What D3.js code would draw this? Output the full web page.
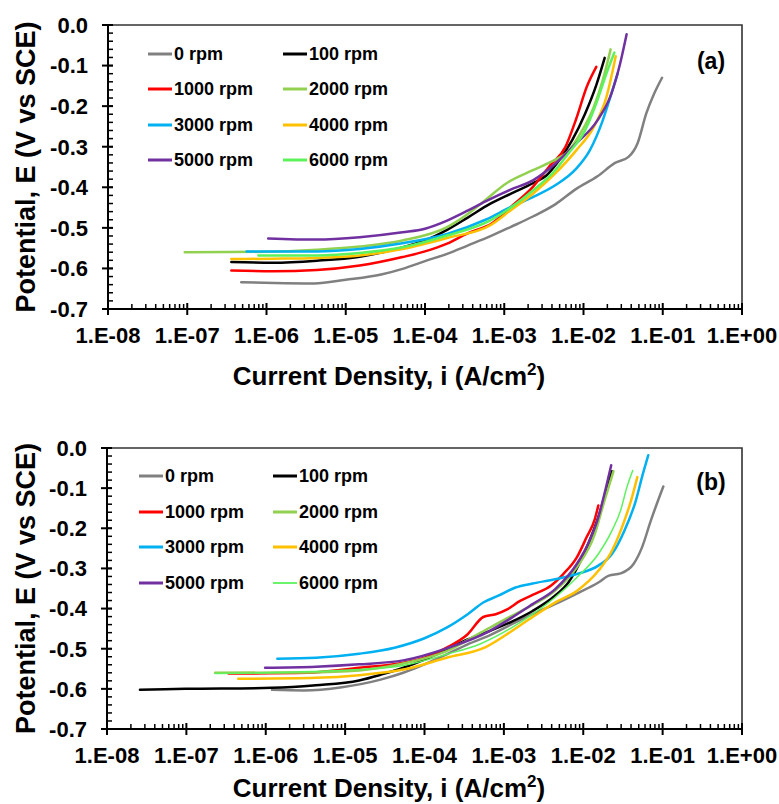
<!DOCTYPE html>
<html><head><meta charset="utf-8">
<script src="https://cdn.jsdelivr.net/npm/d3@7"></script>
<style>body{margin:0;background:#fff}svg{display:block}text{font-family:"Liberation Sans",Arial,sans-serif}</style>
</head><body>
<svg id="c" width="779" height="804"></svg>
<script>
// ---- categories / labels ----
const seriesNames = ["0 rpm","100 rpm","1000 rpm","2000 rpm","3000 rpm","4000 rpm","5000 rpm","6000 rpm"];
const seriesColors = ["#808080","#000000","#ff0000","#92d050","#00b0f0","#ffc000","#7030a0","#5cf25c"];
const xTickValues = [1e-8,1e-7,1e-6,1e-5,1e-4,1e-3,1e-2,1e-1,1e0];
const xTickLabels = ["1.E-08","1.E-07","1.E-06","1.E-05","1.E-04","1.E-03","1.E-02","1.E-01","1.E+00"];
const yTickValues = [0,-0.1,-0.2,-0.3,-0.4,-0.5,-0.6,-0.7];
const yTickLabels = ["0.0","-0.1","-0.2","-0.3","-0.4","-0.5","-0.6","-0.7"];

// ---- panel (a): [current density A/cm2, potential V vs SCE] ----
const a0 = [[4.8e-7,-0.634],[1.26e-6,-0.636],[4.0e-6,-0.637],[1.0e-5,-0.628],[2.8e-5,-0.615],[5.2e-5,-0.601],[1.0e-4,-0.582],[1.9e-4,-0.564],[3.5e-4,-0.543],[6.6e-4,-0.521],[1.2e-3,-0.498],[2.3e-3,-0.472],[4.4e-3,-0.442],[8.1e-3,-0.404],[1.5e-2,-0.373],[2.5e-2,-0.340],[3.7e-2,-0.325],[4.8e-2,-0.292],[6.2e-2,-0.218],[7.8e-2,-0.169],[9.8e-2,-0.130]];
const a100 = [[3.6e-7,-0.584],[1.2e-6,-0.586],[4.3e-6,-0.581],[1.5e-5,-0.571],[5.2e-5,-0.548],[1.0e-4,-0.531],[1.9e-4,-0.505],[3.5e-4,-0.474],[6.6e-4,-0.441],[1.2e-3,-0.416],[2.3e-3,-0.390],[3.4e-3,-0.371],[4.9e-3,-0.334],[7.2e-3,-0.284],[1.05e-2,-0.218],[1.45e-2,-0.148],[1.85e-2,-0.081]];
const a1000 = [[3.6e-7,-0.605],[1.2e-6,-0.607],[4.3e-6,-0.604],[1.5e-5,-0.593],[5.2e-5,-0.572],[1.0e-4,-0.558],[1.9e-4,-0.539],[3.5e-4,-0.513],[5.8e-4,-0.497],[6.6e-4,-0.492],[1.2e-3,-0.449],[2.3e-3,-0.399],[3.8e-3,-0.346],[5.9e-3,-0.301],[8.1e-3,-0.231],[1.1e-2,-0.152],[1.45e-2,-0.103]];
const a2000 = [[9.3e-8,-0.560],[1.0e-6,-0.559],[4.3e-6,-0.554],[1.5e-5,-0.546],[5.2e-5,-0.531],[1.9e-4,-0.498],[3.5e-4,-0.465],[5.8e-4,-0.431],[1.07e-3,-0.390],[2.3e-3,-0.358],[4.4e-3,-0.332],[6.3e-3,-0.313],[9.1e-3,-0.268],[1.35e-2,-0.202],[1.75e-2,-0.136],[2.2e-2,-0.060]];
const a3000 = [[5.6e-7,-0.558],[4.3e-6,-0.558],[1.5e-5,-0.552],[5.2e-5,-0.538],[1.9e-4,-0.515],[5.8e-4,-0.480],[1.2e-3,-0.449],[2.3e-3,-0.424],[4.4e-3,-0.395],[8.1e-3,-0.354],[1.2e-2,-0.309],[1.75e-2,-0.235],[2.25e-2,-0.169],[2.7e-2,-0.119]];
const a4000 = [[3.6e-7,-0.577],[1.2e-6,-0.576],[4.3e-6,-0.574],[1.5e-5,-0.568],[5.2e-5,-0.552],[1.9e-4,-0.525],[6.6e-4,-0.494],[1.2e-3,-0.457],[2.3e-3,-0.416],[4.4e-3,-0.366],[8.1e-3,-0.309],[1.35e-2,-0.251],[1.95e-2,-0.177],[2.55e-2,-0.077]];
const a5000 = [[1.05e-6,-0.526],[4.3e-6,-0.529],[1.5e-5,-0.523],[5.2e-5,-0.511],[1.0e-4,-0.502],[1.9e-4,-0.482],[3.5e-4,-0.457],[5.8e-4,-0.435],[1.2e-3,-0.406],[2.3e-3,-0.383],[4.4e-3,-0.342],[8.1e-3,-0.292],[1.5e-2,-0.235],[2.25e-2,-0.169],[2.9e-2,-0.095],[3.5e-2,-0.023]];
const a6000 = [[7.9e-7,-0.568],[4.3e-6,-0.568],[1.5e-5,-0.562],[5.2e-5,-0.548],[1.9e-4,-0.519],[6.6e-4,-0.482],[2.3e-3,-0.408],[4.4e-3,-0.358],[6.3e-3,-0.319],[1.05e-2,-0.259],[1.5e-2,-0.185],[1.95e-2,-0.119],[2.45e-2,-0.068]];

// ---- panel (b) ----
const b0 = [[1.2e-6,-0.6025],[3.0e-6,-0.604],[9.1e-6,-0.596],[2.8e-5,-0.577],[5.4e-5,-0.560],[1.0e-4,-0.539],[1.9e-4,-0.514],[3.5e-4,-0.489],[6.6e-4,-0.467],[1.26e-3,-0.439],[2.3e-3,-0.414],[4.4e-3,-0.389],[8.3e-3,-0.3625],[1.55e-2,-0.335],[2.1e-2,-0.318],[2.95e-2,-0.3125],[4.3e-2,-0.289],[5.5e-2,-0.2475],[7.1e-2,-0.181],[1.02e-1,-0.096]];
const b100 = [[2.6e-8,-0.602],[9.8e-8,-0.600],[1.2e-6,-0.5975],[4.3e-6,-0.591],[1.5e-5,-0.579],[2.9e-5,-0.564],[5.4e-5,-0.5475],[1.0e-4,-0.527],[1.9e-4,-0.502],[3.5e-4,-0.477],[6.6e-4,-0.456],[1.26e-3,-0.4325],[2.3e-3,-0.406],[4.4e-3,-0.368],[6.5e-3,-0.335],[9.3e-3,-0.281],[1.2e-2,-0.231],[1.55e-2,-0.1725],[2.0e-2,-0.0975],[2.3e-2,-0.058]];
const b1000 = [[3.4e-7,-0.562],[3.3e-6,-0.560],[1.5e-5,-0.5475],[5.4e-5,-0.535],[1.0e-4,-0.5225],[1.9e-4,-0.4975],[3.5e-4,-0.464],[5.5e-4,-0.421],[7.9e-4,-0.414],[1.1e-3,-0.402],[1.6e-3,-0.381],[2.3e-3,-0.366],[3.9e-3,-0.343],[5.6e-3,-0.314],[8.3e-3,-0.2725],[1.1e-2,-0.2225],[1.4e-2,-0.177],[1.55e-2,-0.143]];
const b2000 = [[2.3e-7,-0.560],[3.2e-6,-0.559],[1.5e-5,-0.554],[5.4e-5,-0.537],[1.9e-4,-0.506],[5.1e-4,-0.460],[1.26e-3,-0.418],[2.3e-3,-0.391],[4.4e-3,-0.356],[8.3e-3,-0.2975],[1.4e-2,-0.214],[1.85e-2,-0.131],[2.4e-2,-0.058]];
const b3000 = [[1.4e-6,-0.525],[4.3e-6,-0.5225],[1.5e-5,-0.5125],[4.2e-5,-0.4975],[1.0e-4,-0.474],[1.9e-4,-0.4475],[3.5e-4,-0.414],[5.5e-4,-0.385],[8.5e-4,-0.368],[1.4e-3,-0.3475],[2.3e-3,-0.3375],[4.4e-3,-0.327],[8.3e-3,-0.314],[1.55e-2,-0.293],[2.3e-2,-0.264],[3.3e-2,-0.206],[4.6e-2,-0.131],[5.5e-2,-0.0725],[6.6e-2,-0.018]];
const b4000 = [[4.5e-7,-0.575],[4.3e-6,-0.5725],[1.5e-5,-0.566],[5.4e-5,-0.552],[1.9e-4,-0.5225],[5.9e-4,-0.496],[1.26e-3,-0.456],[2.3e-3,-0.421],[4.4e-3,-0.385],[8.3e-3,-0.356],[1.55e-2,-0.306],[2.3e-2,-0.256],[3.3e-2,-0.181],[4.0e-2,-0.131],[4.8e-2,-0.0725]];
const b5000 = [[9.8e-7,-0.5475],[4.3e-6,-0.545],[1.5e-5,-0.539],[5.4e-5,-0.529],[1.9e-4,-0.499],[6.6e-4,-0.456],[1.26e-3,-0.4225],[2.3e-3,-0.389],[4.4e-3,-0.352],[8.3e-3,-0.289],[1.2e-2,-0.231],[1.55e-2,-0.1725],[1.85e-2,-0.114],[2.25e-2,-0.043]];
const b6000 = [[2.3e-7,-0.562],[1.5e-5,-0.552],[5.4e-5,-0.5417],[1.9e-4,-0.514],[5.1e-4,-0.4875],[1.26e-3,-0.4475],[2.3e-3,-0.414],[4.4e-3,-0.3725],[8.3e-3,-0.3225],[1.55e-2,-0.264],[2.3e-2,-0.206],[2.95e-2,-0.156],[3.55e-2,-0.0975],[4.2e-2,-0.056]];

const panelA = [a0,a100,a1000,a2000,a3000,a4000,a5000,a6000];
const panelB = [b0,b100,b1000,b2000,b3000,b4000,b5000,b6000];

const svg = d3.select("#c");

function drawPanel(cfg){
  const g = svg.append("g");
  const x = d3.scaleLog().domain([1e-8,1]).range([cfg.left,cfg.right]);
  const y = d3.scaleLinear().domain([-0.7,0]).range([cfg.bottom,cfg.top]);

  // frame (top + right)
  g.append("path").attr("d",`M${cfg.left},${cfg.top}H${cfg.right}V${cfg.bottom}`)
    .attr("fill","none").attr("stroke","#333").attr("stroke-width",1.6);

  // series
  const line = d3.line().x(d=>x(d[0])).y(d=>y(d[1])).curve(d3.curveMonotoneX);
  cfg.data.forEach((s,k)=>{
    g.append("path").datum(s).attr("d",line).attr("fill","none")
      .attr("stroke",seriesColors[k]).attr("stroke-width",cfg.widths[k])
      .attr("stroke-linejoin","round").attr("stroke-linecap","round");
  });

  // y axis
  g.append("line").attr("x1",cfg.left).attr("x2",cfg.left).attr("y1",cfg.top).attr("y2",cfg.bottom)
    .attr("stroke","#000").attr("stroke-width",2);
  const yMinor = d3.range(0,36).map(k=>-k*0.02);
  g.selectAll(null).data(yMinor).enter().append("line")
    .attr("x1",cfg.left).attr("x2",cfg.left+5).attr("y1",d=>y(d)).attr("y2",d=>y(d))
    .attr("stroke","#000").attr("stroke-width",1.5);
  g.selectAll(null).data(yTickValues).enter().append("line")
    .attr("x1",cfg.left-6).attr("x2",cfg.left+5).attr("y1",d=>y(d)).attr("y2",d=>y(d))
    .attr("stroke","#000").attr("stroke-width",2);
  g.selectAll(null).data(yTickValues).enter().append("text")
    .attr("x",cfg.left-20).attr("y",d=>y(d)).attr("dy","0.36em").attr("text-anchor","end")
    .attr("font-size",22).attr("font-weight","bold").text((d,i)=>yTickLabels[i]);

  // x axis
  g.append("line").attr("x1",cfg.left).attr("x2",cfg.right).attr("y1",cfg.bottom).attr("y2",cfg.bottom)
    .attr("stroke","#000").attr("stroke-width",2);
  const xMinor = [];
  xTickValues.slice(0,-1).forEach(d=>{ for(let m=2;m<=9;m++) xMinor.push(d*m); });
  g.selectAll(null).data(xMinor).enter().append("line")
    .attr("x1",d=>x(d)).attr("x2",d=>x(d)).attr("y1",cfg.bottom-5).attr("y2",cfg.bottom)
    .attr("stroke","#000").attr("stroke-width",1.5);
  g.selectAll(null).data(xTickValues).enter().append("line")
    .attr("x1",d=>x(d)).attr("x2",d=>x(d)).attr("y1",cfg.bottom-6).attr("y2",cfg.bottom+6)
    .attr("stroke","#000").attr("stroke-width",2);
  g.selectAll(null).data(xTickValues).enter().append("text")
    .attr("x",d=>x(d)).attr("y",cfg.bottom+34).attr("text-anchor","middle")
    .attr("font-size",22).attr("font-weight","bold").text((d,i)=>xTickLabels[i]);

  // titles
  const yc = (cfg.top+cfg.bottom)/2;
  g.append("text").attr("transform",`translate(25,${yc}) rotate(-90)`).attr("dy","0.36em")
    .attr("text-anchor","middle").attr("font-size",27).attr("font-weight","bold")
    .text("Potential, E (V vs SCE)");
  const xt = g.append("text").attr("x",389).attr("y",cfg.titleY).attr("text-anchor","middle")
    .attr("font-size",26).attr("font-weight","bold");
  xt.append("tspan").text("Current Density, i (A/cm");
  xt.append("tspan").attr("font-size",17).attr("dy",-10).text("2");
  xt.append("tspan").attr("dy",10).text(")");

  // panel label
  g.append("text").attr("x",cfg.labelX).attr("y",cfg.labelY).attr("dy","0.36em")
    .attr("text-anchor","middle").attr("font-size",23).attr("font-weight","bold").text(cfg.label);

  // legend
  seriesNames.forEach((n,k)=>{
    const col = k%2, row = Math.floor(k/2);
    const lx = cfg.legX[col], ly = cfg.legY[row];
    g.append("line").attr("x1",lx).attr("x2",lx+24).attr("y1",ly).attr("y2",ly)
      .attr("stroke",seriesColors[k]).attr("stroke-width",cfg.legW[k]);
    g.append("text").attr("x",lx+26).attr("y",ly).attr("dy","0.36em")
      .attr("font-size",18).attr("font-weight","bold").text(n);
  });
}

drawPanel({top:25,bottom:309,left:108,right:742,data:panelA,
  widths:[2.5,2.5,2.5,2.5,2.5,2.5,2.5,2.5],legW:[3,3,3,3,3,3,3,3],
  titleY:385,label:"(a)",labelX:711,labelY:61,
  legX:[148,283],legY:[54,89,125,160]});
drawPanel({top:448,bottom:729,left:107,right:742,data:panelB,
  widths:[2.5,2.5,2.5,2.5,2.5,2.5,2.5,1.5],legW:[3,3,3,3,3,3,3,1.8],
  titleY:797,label:"(b)",labelX:711,labelY:482,
  legX:[139,273],legY:[476,512,547,583]});
</script>
</body></html>
